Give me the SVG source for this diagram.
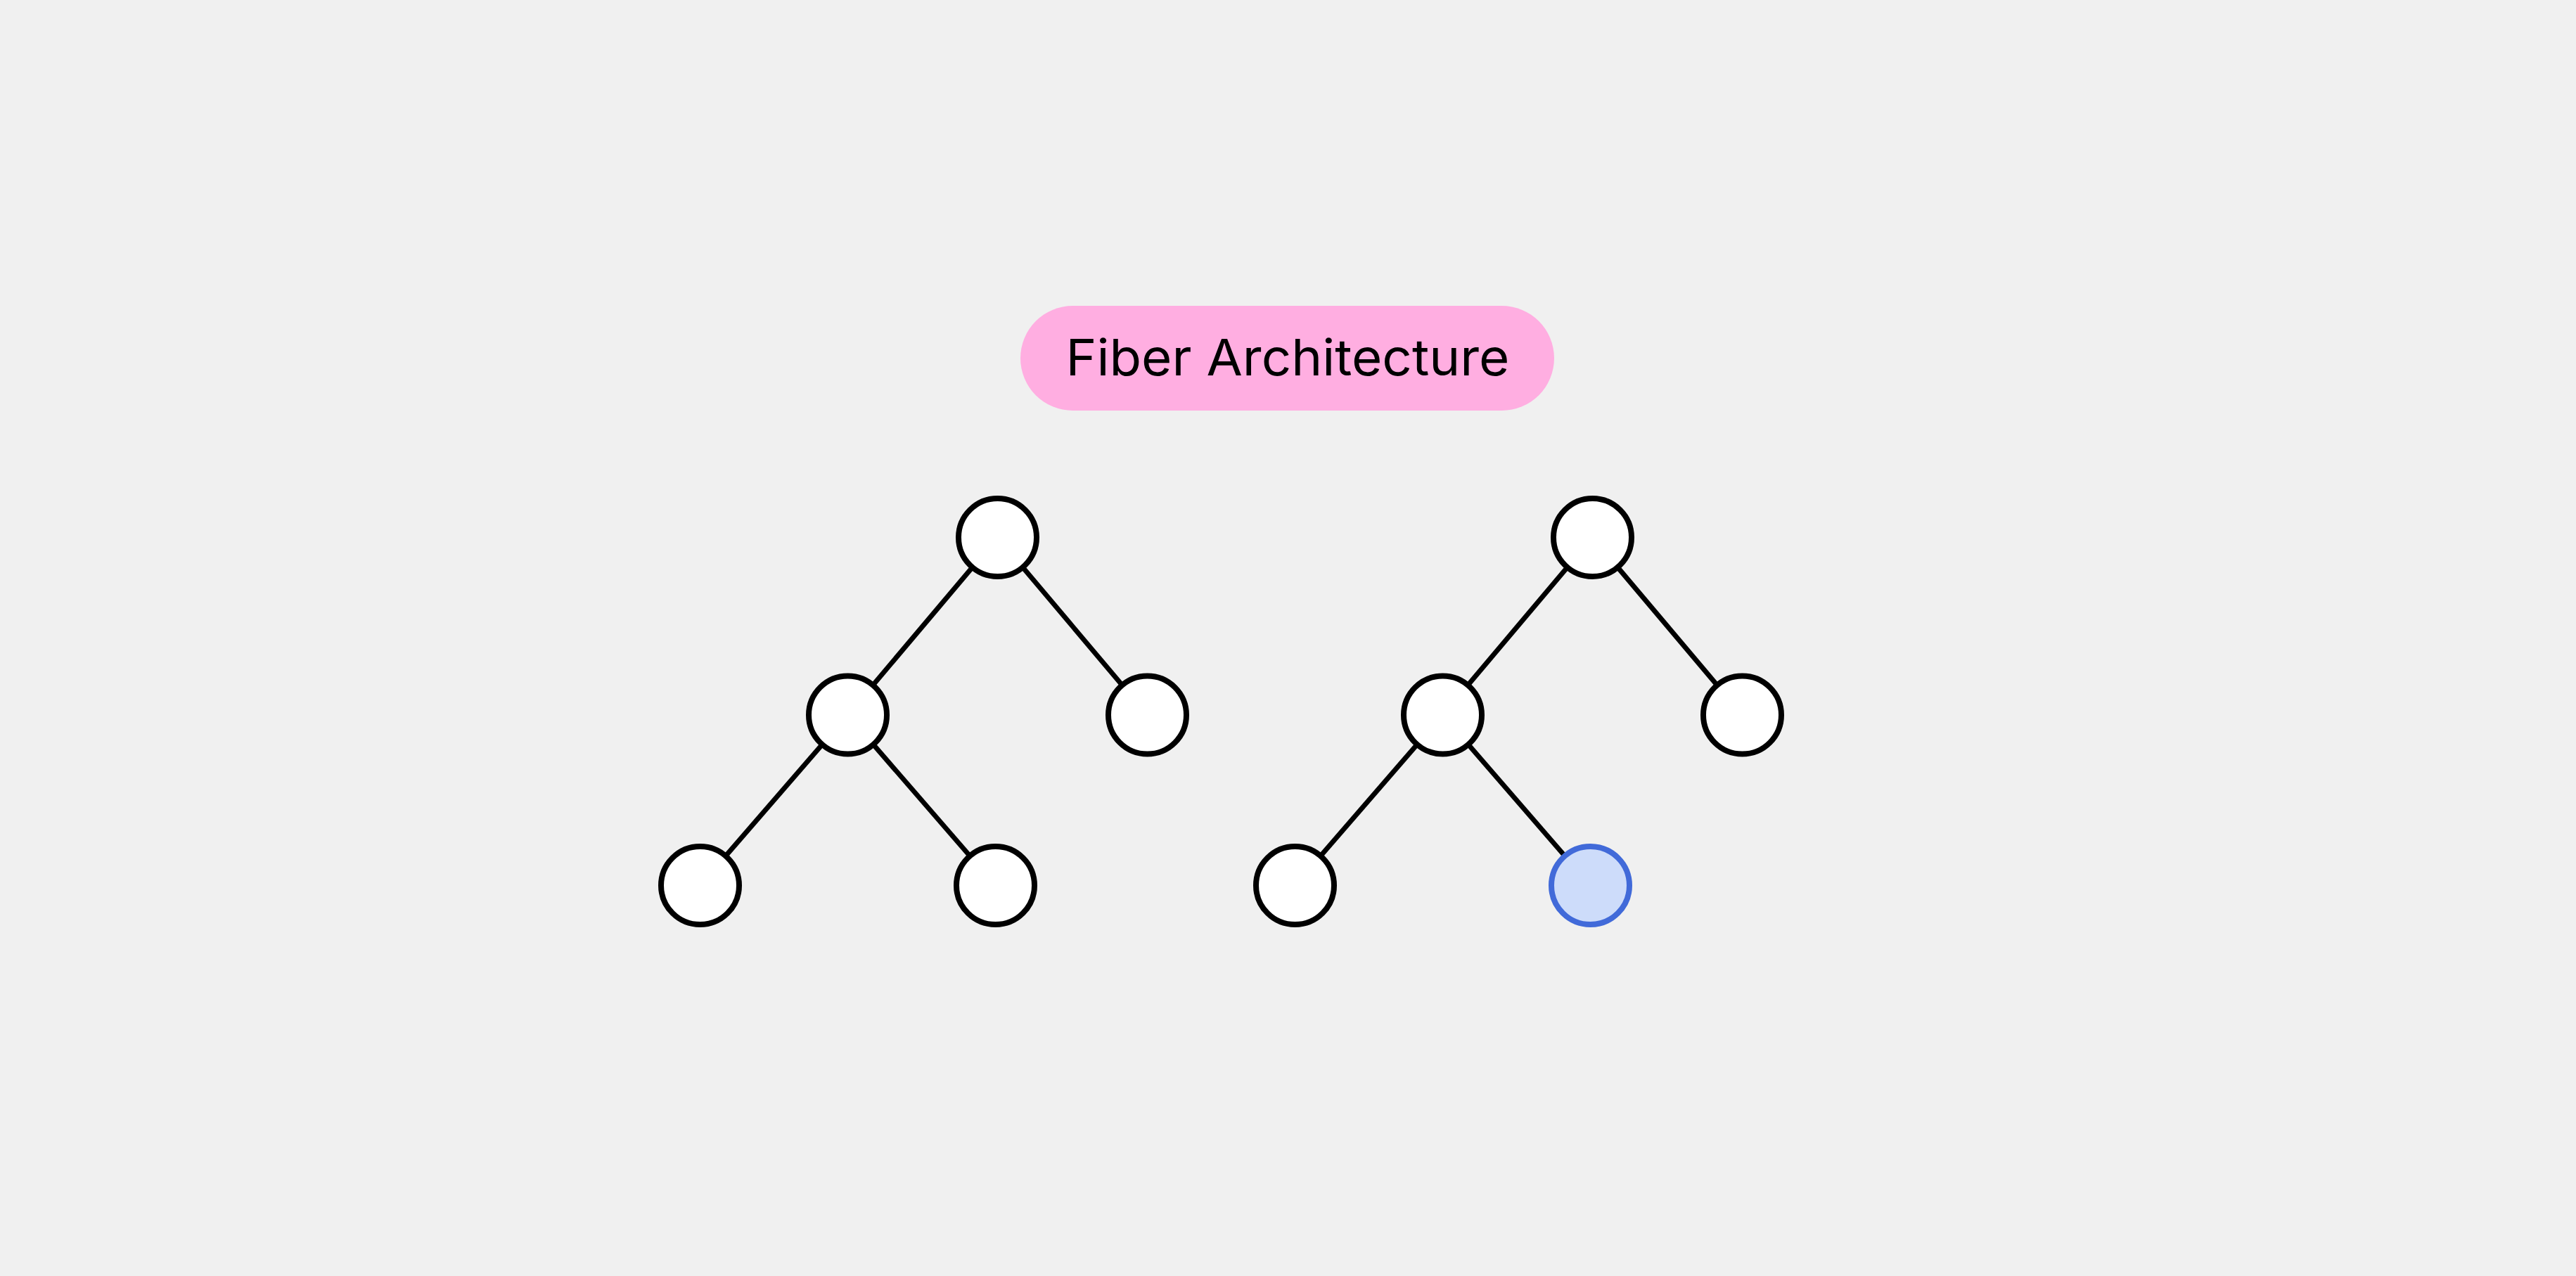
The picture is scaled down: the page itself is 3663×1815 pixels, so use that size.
<svg xmlns="http://www.w3.org/2000/svg" width="3663" height="1815" viewBox="0 0 3663 1815">
<style>
.bg{fill:#f0f0f0}
.pill{fill:#ffaee1}
.title{font-family:Inter,"Liberation Sans",sans-serif;font-size:72px;fill:#000}
.node{fill:#fff;stroke:#000;stroke-width:8}
.node.active{fill:#cddcfa;stroke:#416ad9}
.edge{stroke:#000;stroke-width:7;fill:none}
</style>
<rect class="bg" x="0" y="0" width="3663" height="1815"/>
<g id="title">
<rect class="pill" x="1451" y="435" width="759" height="149" rx="74.5"/>
<text class="title" x="1831" y="534" text-anchor="middle" textLength="631" lengthAdjust="spacingAndGlyphs">Fiber Architecture</text>
</g>
<g id="connectors">
<line class="edge" x1="1418.5" y1="764.5" x2="1205.5" y2="1017"/>
<line class="edge" x1="1418.5" y1="764.5" x2="1631.5" y2="1017"/>
<line class="edge" x1="1205.5" y1="1017" x2="995.5" y2="1259.5"/>
<line class="edge" x1="1205.5" y1="1017" x2="1415.5" y2="1259.5"/>
<line class="edge" x1="2264.5" y1="764.5" x2="2051.5" y2="1017"/>
<line class="edge" x1="2264.5" y1="764.5" x2="2477.5" y2="1017"/>
<line class="edge" x1="2051.5" y1="1017" x2="1841.5" y2="1259.5"/>
<line class="edge" x1="2051.5" y1="1017" x2="2261.5" y2="1259.5"/>
</g>
<g id="left-root"><circle class="node" cx="1418.5" cy="764.5" r="55.5"/></g>
<g id="left-l2-a"><circle class="node" cx="1205.5" cy="1017" r="55.5"/></g>
<g id="left-l2-b"><circle class="node" cx="1631.5" cy="1017" r="55.5"/></g>
<g id="left-l3-a"><circle class="node" cx="995.5" cy="1259.5" r="55.5"/></g>
<g id="left-l3-b"><circle class="node" cx="1415.5" cy="1259.5" r="55.5"/></g>
<g id="right-root"><circle class="node" cx="2264.5" cy="764.5" r="55.5"/></g>
<g id="right-l2-a"><circle class="node" cx="2051.5" cy="1017" r="55.5"/></g>
<g id="right-l2-b"><circle class="node" cx="2477.5" cy="1017" r="55.5"/></g>
<g id="right-l3-a"><circle class="node" cx="1841.5" cy="1259.5" r="55.5"/></g>
<g id="right-l3-b"><circle class="node active" cx="2261.5" cy="1259.5" r="55.5"/></g>
</svg>
